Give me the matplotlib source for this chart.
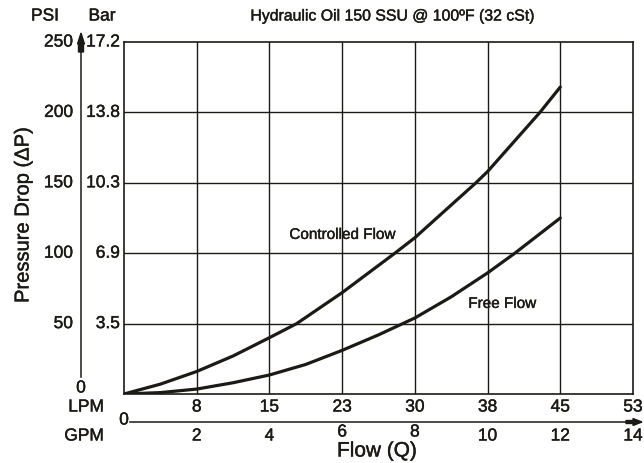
import matplotlib

matplotlib.use("Agg")

import matplotlib.pyplot as plt
import matplotlib.patheffects as pe
from matplotlib.transforms import blended_transform_factory

# Flow in GPM, pressure drop in PSI
controlled_gpm = [0, 1, 2, 3, 4, 4.75, 6, 7.45, 8, 9.68, 10, 11.44, 12]
controlled_psi = [0, 7, 16, 27, 40, 50, 72, 100, 111, 150, 158, 200, 218]
free_gpm = [0, 1, 2, 3, 4, 5, 6, 7, 7.5, 8, 9, 10, 10.75, 12]
free_psi = [0, 1, 3.5, 8, 13.5, 21, 31, 42, 48, 54, 69, 86, 100, 125]

psi_ticks = [50, 100, 150, 200, 250]
bar_labels = ["3.5", "6.9", "10.3", "13.8", "17.2"]
gpm_ticks = [2, 4, 6, 8, 10, 12, 14]
lpm_labels = ["8", "15", "23", "30", "38", "45", "53"]

W, H = 644, 464
INK = "#1c1a14"
FONT = "Liberation Sans"
HEAVY = [pe.withStroke(linewidth=0.3, foreground=INK)]
TXT = dict(family=FONT, color=INK, path_effects=HEAVY)


def fx(px):
    return px / W


def fy(py):
    return 1 - py / H


fig = plt.figure(figsize=(W / 100, H / 100), dpi=100)
fig.patch.set_facecolor("white")
ax = fig.add_axes([fx(124), fy(395), fx(633) - fx(124), fy(43) - fy(395)])

ax.set_xlim(0, 14)
ax.set_ylim(0, 250)
ax.set_xticks([])
ax.set_yticks([])
for s in ax.spines.values():
    s.set_color(INK)
    s.set_linewidth(1.2)

for g in gpm_ticks[:-1]:
    ax.axvline(g, color=INK, lw=1.0, zorder=1)
for p in psi_ticks[:-1]:
    ax.axhline(p, color=INK, lw=1.0, zorder=1)

ax.plot(controlled_gpm, controlled_psi, color=INK, lw=2.3, solid_capstyle="round", zorder=3)
ax.plot(free_gpm, free_psi, color=INK, lw=2.3, solid_capstyle="round", zorder=3)

ax.text(6.0, 113, "Controlled Flow", fontsize=11, ha="center", va="center", **TXT)
ax.text(10.4, 64, "Free Flow", fontsize=11, ha="center", va="center", **TXT)

# left scale: PSI and Bar columns
ytrans = blended_transform_factory(fig.transFigure, ax.transData)
for p, b in zip(psi_ticks, bar_labels):
    ax.text(fx(73), p, str(p), transform=ytrans, ha="right", va="center", fontsize=12.5, **TXT)
    ax.text(fx(120), p, b, transform=ytrans, ha="right", va="center", fontsize=12.5, **TXT)

fig.text(fx(81), fy(389), "0", ha="center", va="center", fontsize=12.5, **TXT)
fig.text(fx(45), fy(17), "PSI", ha="center", va="center", fontsize=12.5, **TXT)
fig.text(fx(102), fy(17), "Bar", ha="center", va="center", fontsize=12.5, **TXT)

# vertical pressure arrow between the two label columns
fig.add_artist(plt.Line2D([fx(81), fx(81)], [fy(378), fy(50)], color=INK, lw=1.1))
fig.patches.append(matplotlib.patches.FancyArrow(
    fx(81), fy(53), 0, fy(34) - fy(53), width=fx(5), head_width=fx(7),
    head_length=fy(42) - fy(53), length_includes_head=True,
    transform=fig.transFigure, color=INK, figure=fig))

fig.text(fx(23), fy(216), "Pressure Drop (\u0394P)", rotation=90, ha="center", va="center",
         fontsize=14.5, **TXT)

fig.text(fx(393), fy(17), "Hydraulic Oil 150 SSU @ 100\u00baF (32 cSt)", ha="center",
         va="center", fontsize=11.4, **TXT)

# flow scales below the plot
xtrans = blended_transform_factory(ax.transData, fig.transFigure)
for g, l in zip(gpm_ticks, lpm_labels):
    ax.text(g, fy(408), l, transform=xtrans, ha="center", va="center", fontsize=12.5, **TXT)
    gy = 433 if g in (6, 8) else 437
    ax.text(g, fy(gy), str(g), transform=xtrans, ha="center", va="center", fontsize=12.5, **TXT)

fig.text(fx(86), fy(408), "LPM", ha="center", va="center", fontsize=12.5, **TXT)
fig.text(fx(84), fy(437), "GPM", ha="center", va="center", fontsize=12.5, **TXT)
fig.text(fx(124), fy(421), "0", ha="center", va="center", fontsize=12.5, **TXT)

fig.add_artist(plt.Line2D([fx(130), fx(630)], [fy(423), fy(423)], color=INK, lw=1.1))
fig.patches.append(matplotlib.patches.FancyArrow(
    fx(626), fy(423), fx(642) - fx(626), 0, width=fy(0) - fy(3), head_width=fy(0) - fy(7),
    head_length=fx(9), length_includes_head=True,
    transform=fig.transFigure, color=INK, figure=fig))

fig.text(fx(377), fy(452), "Flow (Q)", ha="center", va="center", fontsize=15, **TXT)

fig.savefig("out.png", dpi=100, facecolor="white")
